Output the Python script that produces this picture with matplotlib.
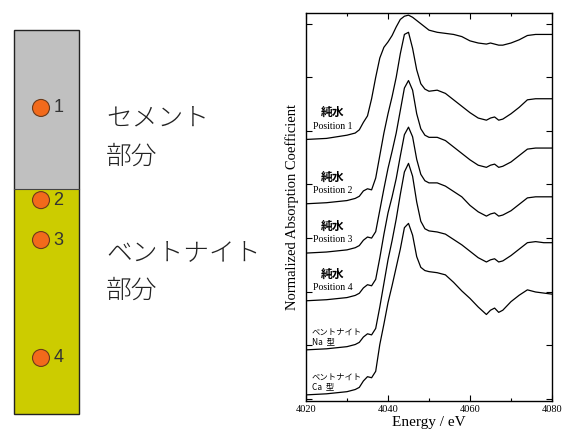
import matplotlib
matplotlib.use("Agg")
import matplotlib.pyplot as plt
from matplotlib.patches import Rectangle, Circle
import numpy as np

# --- spectra (normalized) ---
energy = [4020, 4025, 4030, 4032, 4033, 4034, 4035, 4036, 4037, 4038, 4039, 4040,
          4041, 4042, 4043, 4044, 4045, 4046, 4047, 4048, 4049, 4050, 4052, 4054,
          4056, 4058, 4060, 4062, 4064, 4065, 4066, 4067, 4068, 4070, 4072, 4074,
          4076, 4078, 4080]

mu_pos1 = [0.00, 0.01, 0.04, 0.06, 0.09, 0.16, 0.22, 0.38, 0.58, 0.76, 0.86, 0.91,
           0.97, 1.05, 1.12, 1.15, 1.16, 1.14, 1.11, 1.08, 1.05, 1.02, 1.00, 0.99,
           0.98, 0.96, 0.92, 0.90, 0.89, 0.90, 0.89, 0.88, 0.88, 0.90, 0.93, 0.97,
           0.98, 0.98, 0.98]
mu_pos2 = [0.00, 0.01, 0.03, 0.05, 0.07, 0.12, 0.14, 0.13, 0.24, 0.45, 0.66, 0.84,
           1.00, 1.18, 1.40, 1.58, 1.60, 1.45, 1.25, 1.12, 1.07, 1.05, 1.06, 1.03,
           0.97, 0.91, 0.85, 0.80, 0.78, 0.80, 0.81, 0.78, 0.79, 0.84, 0.90, 0.97,
           0.98, 0.98, 0.98]
mu_pos3 = [0.00, 0.01, 0.03, 0.05, 0.07, 0.12, 0.15, 0.14, 0.20, 0.40, 0.60, 0.79,
           0.95, 1.12, 1.33, 1.54, 1.61, 1.52, 1.30, 1.16, 1.10, 1.08, 1.08, 1.05,
           0.99, 0.93, 0.87, 0.82, 0.80, 0.82, 0.83, 0.80, 0.81, 0.85, 0.91, 0.97,
           0.98, 0.98, 0.98]
mu_pos4 = [0.00, 0.01, 0.03, 0.05, 0.07, 0.12, 0.15, 0.14, 0.20, 0.40, 0.62, 0.82,
           0.97, 1.14, 1.35, 1.55, 1.62, 1.53, 1.32, 1.18, 1.12, 1.10, 1.10, 1.07,
           1.02, 0.97, 0.89, 0.83, 0.79, 0.81, 0.82, 0.79, 0.80, 0.84, 0.90, 0.96,
           0.97, 0.97, 0.97]
mu_na = [0.00, 0.01, 0.03, 0.05, 0.07, 0.12, 0.15, 0.14, 0.20, 0.40, 0.62, 0.84,
         1.02, 1.22, 1.45, 1.66, 1.74, 1.62, 1.38, 1.20, 1.13, 1.11, 1.10, 1.08,
         1.03, 0.98, 0.92, 0.86, 0.82, 0.84, 0.85, 0.82, 0.83, 0.88, 0.94, 1.00,
         1.01, 1.00, 1.00]
mu_ca = [0.00, 0.01, 0.03, 0.05, 0.07, 0.13, 0.17, 0.16, 0.22, 0.47, 0.66, 0.86,
         1.02, 1.19, 1.36, 1.56, 1.60, 1.49, 1.29, 1.19, 1.16, 1.15, 1.14, 1.12,
         1.05, 0.97, 0.90, 0.82, 0.75, 0.79, 0.81, 0.77, 0.79, 0.87, 0.93, 0.98,
         0.96, 0.95, 0.94]

spectra = [mu_pos1, mu_pos2, mu_pos3, mu_pos4, mu_na, mu_ca]
offsets = [2.42, 1.82, 1.36, 0.915, 0.457, 0.037]
label_top = ["純水", "純水", "純水", "純水", "ベントナイト", "ベントナイト"]
label_bot = ["Position 1", "Position 2", "Position 3", "Position 4", "Na  型", "Ca  型"]

# --- sample column (depth fraction from top) ---
boundary_depth = 0.414
sample_depth = [0.203, 0.443, 0.547, 0.854]
sample_names = ["1", "2", "3", "4"]

cjk = ["Noto Sans CJK JP", "DejaVu Sans"]
serif = ["Liberation Serif", "DejaVu Serif"]

fig = plt.figure(figsize=(5.65, 4.33), dpi=100)

# left schematic, drawn in pixel space
ax0 = fig.add_axes([0, 0, 1, 1])
ax0.set_xlim(0, 565)
ax0.set_ylim(433, 0)
ax0.axis("off")

col_x, col_w, col_top, col_h = 14, 65, 30, 384
yb = col_top + boundary_depth * col_h
ax0.add_patch(Rectangle((col_x, col_top), col_w, yb - col_top, fc="#c0c0c0", ec="none"))
ax0.add_patch(Rectangle((col_x, yb), col_w, col_top + col_h - yb, fc="#cccc00", ec="none"))
ax0.add_patch(Rectangle((col_x, col_top), col_w, col_h, fc="none", ec="#222222", lw=1.0))
ax0.plot([col_x, col_x + col_w], [yb, yb], color="#444444", lw=0.8)
for d, nm in zip(sample_depth, sample_names):
    cy = col_top + d * col_h
    ax0.add_patch(Circle((41, cy), 8.5, fc="#f26a1b", ec="#6b3a1a", lw=0.8))
    ax0.text(53.5, cy, nm, fontsize=13, family="Liberation Sans", color="#333333",
             va="center", ha="left")

for txt, ty in [("セメント", 118), ("部分", 157), ("ベントナイト", 253), ("部分", 290)]:
    ax0.text(106, ty, txt, fontsize=18.5, family=cjk, fontweight="light",
             color="#222222", va="center")

# right: spectra
ax = fig.add_axes([306 / 565, 32 / 433, 246 / 565, 388 / 433])
for mu, off in zip(spectra, offsets):
    ax.plot(energy, np.array(mu) + off, color="black", lw=0.9)

for i, off in enumerate(offsets):
    if i < 4:
        ax.text(4026.4, off + 0.25, label_top[i], fontsize=8.5, family=cjk,
                fontweight="bold", ha="center", va="center")
        ax.text(4026.6, off + 0.125, label_bot[i], fontsize=7, family=serif,
                ha="center", va="center")
    else:
        ax.text(4021.4, off + 0.165, label_top[i], fontsize=6, family=cjk,
                ha="left", va="center")
        ax.text(4021.4, off + 0.075, label_bot[i], fontsize=6, family=cjk,
                ha="left", va="center")

ax.set_xlim(4020, 4080)
ax.set_ylim(-0.02, 3.60)
ax.set_xticks([4020, 4040, 4060, 4080])
ax.set_xticks([4030, 4050, 4070], minor=True)
ax.set_yticks(np.arange(0, 3.6, 0.5))
ax.set_yticklabels([])
ax.tick_params(which="both", direction="in", top=True, right=True,
               labelsize=7.5, pad=3)
ax.tick_params(which="major", length=4, width=0.8)
ax.tick_params(which="minor", length=2.5, width=0.8)
for lab in ax.get_xticklabels():
    lab.set_family(serif)
for sp in ax.spines.values():
    sp.set_linewidth(1.0)
ax.set_xlabel("Energy / eV", fontsize=11, family=serif, labelpad=1)
ax.set_ylabel("Normalized Absorption Coefficient", fontsize=10.5, family=serif,
              labelpad=2)

fig.savefig("out.png", dpi=100)
